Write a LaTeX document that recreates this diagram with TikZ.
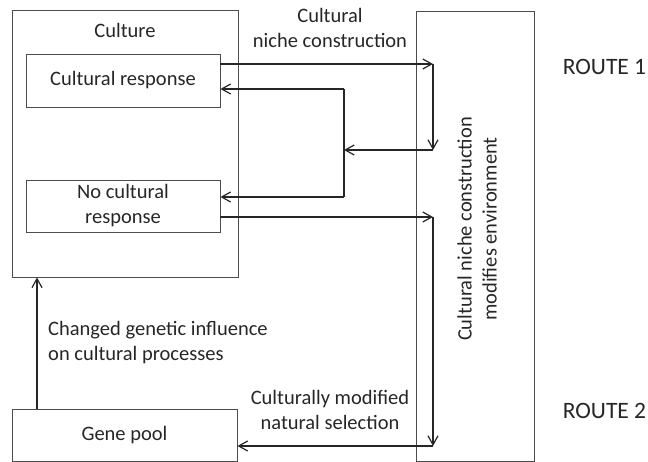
\documentclass[tikz,border=0pt]{standalone}
\usepackage{fontspec}
\setmainfont{Carlito}
\usetikzlibrary{arrows.meta}
\begin{document}
\begin{tikzpicture}[x=1pt,y=-1pt,
  every node/.style={text=black!85},
  txt/.style={font=\fontsize{20.5}{25}\selectfont, inner sep=0pt},
  rtxt/.style={font=\fontsize{23.5}{28}\selectfont, inner sep=0pt},
  boxed/.style={draw=black!70, line width=0.9pt, inner sep=0pt, txt, align=center},
  arr/.style={draw=black!85, line width=1.3pt, -{Straight Barb[length=9pt,width=10pt,line width=1.2pt]}},
  ln/.style={draw=black!85, line width=1.3pt}]
\useasboundingbox (0,0) rectangle (648,462);
% boxes
\node[boxed, minimum width=226pt, minimum height=267pt] (culture) at (125,143.5) {};
\node[txt] (culturelabel) at (125,30) {Culture};
\node[boxed, minimum width=194pt, minimum height=53pt] (cr) at (123,80.5) {Cultural response};
\node[boxed, minimum width=194pt, minimum height=52pt] (ncr) at (123,206) {No cultural\\response};
\node[boxed, minimum width=118pt, minimum height=450pt] (env) at (475,236) {};
\node[txt, rotate=90, align=center] (envlabel) at (477,229) {Cultural niche construction\\modifies environment};
\node[boxed, minimum width=225pt, minimum height=52pt] (gene) at (124.5,435) {Gene pool};
% labels
\node[txt, align=center] (l1) at (330,28) {Cultural\\niche construction};
\node[txt, align=left, anchor=west] (l2) at (48,342.5) {Changed genetic influence\\on cultural processes};
\node[txt, align=center] (l3) at (330,409.5) {Culturally modified\\natural selection};
\node[rtxt] (r1) at (604.5,67) {ROUTE 1};
\node[rtxt] (r2) at (604.5,411) {ROUTE 2};
% coordinates
\coordinate (a1) at (433,64);
\coordinate (a2) at (433,150);
\coordinate (bar) at (344,150);
\coordinate (b1) at (344,89);
\coordinate (b2) at (344,197);
\coordinate (c1) at (433,217);
\coordinate (c2) at (433,446);
\coordinate (g) at (37,300);
% route 1
\draw[arr] (cr.east |- a1) -- (a1);
\draw[arr] (a1) -- (a2);
\draw[arr] (a2) -- (bar);
\draw[ln] (b1) -- (b2);
\draw[arr] (b1) -- (cr.east |- b1);
\draw[arr] (b2) -- (ncr.east |- b2);
% route 2
\draw[arr] (ncr.east |- c1) -- (c1);
\draw[arr] (c1) -- (c2);
\draw[arr] (c2) -- (gene.east |- c2);
\draw[arr] (gene.north -| g) -- (culture.south -| g);
\end{tikzpicture}
\end{document}
